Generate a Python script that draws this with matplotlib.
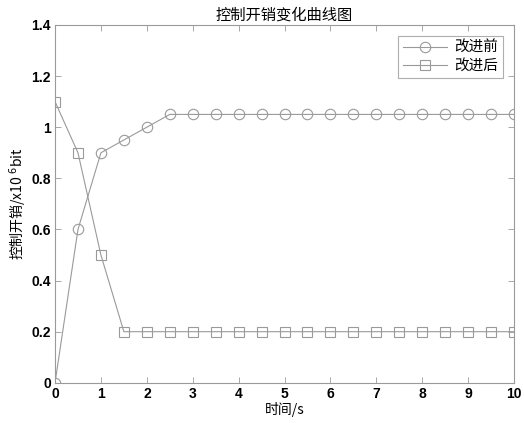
import matplotlib
matplotlib.use("Agg")
import matplotlib.pyplot as plt

x = [0, 0.5, 1, 1.5, 2, 2.5, 3, 3.5, 4, 4.5, 5, 5.5, 6, 6.5, 7, 7.5, 8, 8.5, 9, 9.5, 10]
before = [0, 0.6, 0.9, 0.95, 1.0] + [1.05] * 16
after = [1.1, 0.9, 0.5] + [0.2] * 18
labels = ["改进前", "改进后"]

plt.rcParams['font.family'] = ['Noto Sans CJK SC', 'DejaVu Sans']
gray = '#9a9a9a'

fig = plt.figure(figsize=(5.24, 4.23), dpi=100)
ax = fig.add_axes([0.105, 0.095, 0.876, 0.846])
ax.plot(x, before, color=gray, lw=0.8, marker='o', ms=7.5, mfc='none', mec=gray, mew=0.8, label=labels[0])
ax.plot(x, after, color=gray, lw=0.8, marker='s', ms=7.5, mfc='none', mec=gray, mew=0.8, label=labels[1])
ax.set_xlim(0, 10)
ax.set_ylim(0, 1.4)
ax.set_xticks(range(0, 11))
ax.set_yticks([0, 0.2, 0.4, 0.6, 0.8, 1.0, 1.2, 1.4])
ax.set_yticklabels(['0', '0.2', '0.4', '0.6', '0.8', '1', '1.2', '1.4'])
for s in ax.spines.values():
    s.set_color(gray)
    s.set_linewidth(0.8)
ax.tick_params(direction='in', top=True, right=True, color=gray, length=4, width=0.6,
               labelsize=10, pad=3)
for lab in ax.get_xticklabels() + ax.get_yticklabels():
    lab.set_family('Liberation Sans')
    lab.set_fontweight('bold')
ax.set_title('控制开销变化曲线图', fontsize=11, pad=4)
ax.set_xlabel('时间/s', fontsize=10, labelpad=1)
ax.set_ylabel('控制开销/x10 $^{6}$bit', fontsize=10, labelpad=2)
leg = ax.legend(loc='upper right', fontsize=10.5, frameon=True, fancybox=False,
                edgecolor=gray, handlelength=3.0, borderpad=0.35, labelspacing=0.25,
                borderaxespad=0.75, handletextpad=0.5)
leg.get_frame().set_linewidth(0.8)
fig.savefig('out.png', dpi=100)
